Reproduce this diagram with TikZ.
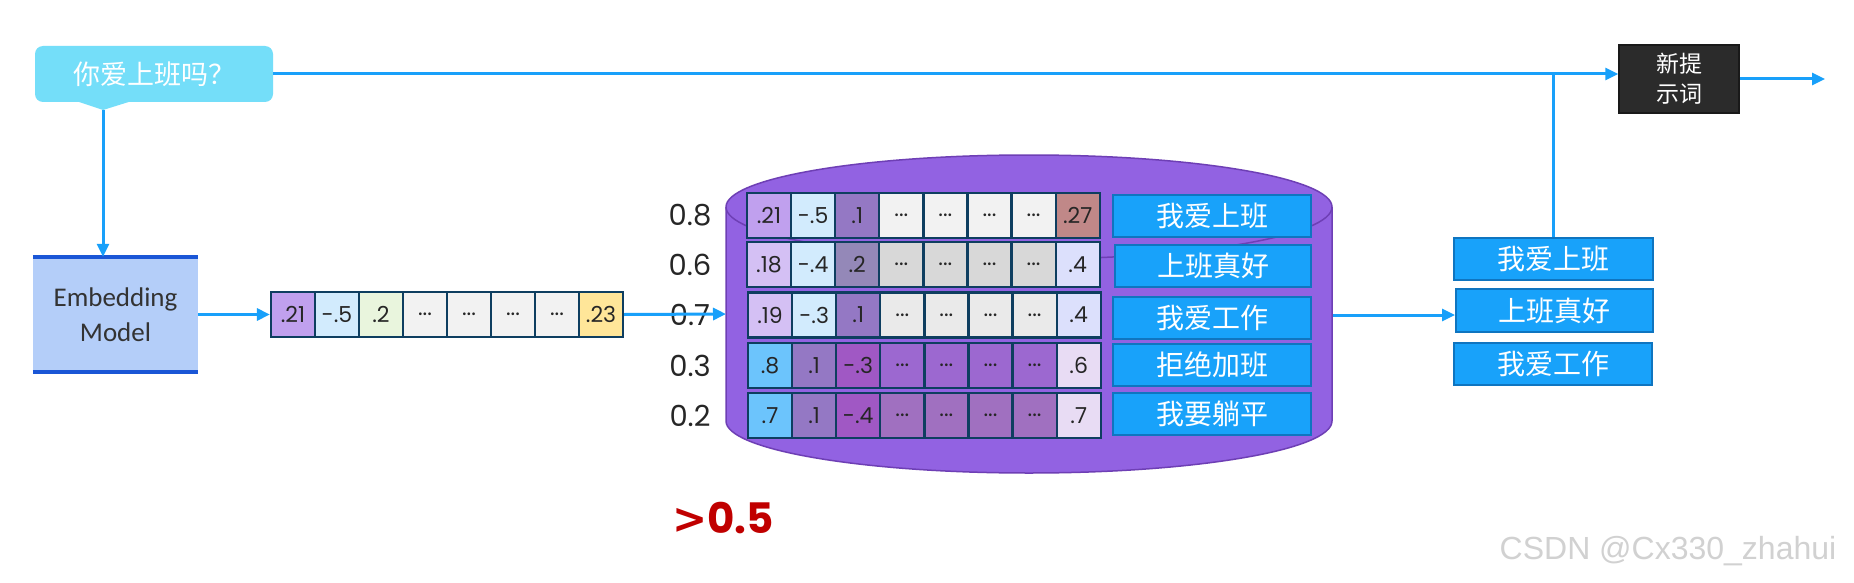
\documentclass[tikz,border=0pt]{standalone}
\usepackage{fontspec}
\setmainfont{Liberation Sans}
\newfontfamily\cjk{Noto Sans CJK SC}
\newfontfamily\hand{Poppins}
\newfontfamily\cali{Carlito}
\newfontfamily\dv{DejaVu Sans}
\usetikzlibrary{arrows.meta}
\newcommand\ddd{...}
\definecolor{arrowblue}{RGB}{24,160,250}
\definecolor{bubblec}{RGB}{116,222,249}
\definecolor{embf}{RGB}{180,206,249}
\definecolor{embl}{RGB}{26,86,214}
\definecolor{cylf}{RGB}{146,98,226}
\definecolor{cyle}{RGB}{110,63,181}
\definecolor{cellb}{RGB}{14,62,96}
\definecolor{tboxf}{RGB}{24,162,250}
\definecolor{tboxb}{RGB}{15,117,192}
\definecolor{npf}{RGB}{43,43,43}
\definecolor{redt}{RGB}{192,0,0}
\definecolor{cA}{RGB}{192,160,238}
\definecolor{cB}{RGB}{210,235,253}
\definecolor{cC}{RGB}{233,245,221}
\definecolor{cD}{RGB}{242,242,242}
\definecolor{cE}{RGB}{255,230,153}
\definecolor{rC}{RGB}{148,120,196}
\definecolor{rK}{RGB}{192,136,136}
\definecolor{rL}{RGB}{212,192,244}
\definecolor{rM}{RGB}{148,136,184}
\definecolor{dB}{RGB}{216,216,216}
\definecolor{rN}{RGB}{220,224,252}
\definecolor{dC}{RGB}{234,234,234}
\definecolor{rS}{RGB}{108,196,252}
\definecolor{rT}{RGB}{160,88,196}
\definecolor{dD}{RGB}{156,104,208}
\definecolor{rU}{RGB}{232,220,244}
\definecolor{dE}{RGB}{160,112,192}
\begin{document}
\begin{tikzpicture}[x=1pt,y=-1pt,
  arr/.style={draw=arrowblue, line width=3pt, -{Triangle[length=13pt,width=12pt]}},
  plainline/.style={draw=arrowblue, line width=3pt},
  cell/.style={draw=cellb, line width=2.2pt, minimum width=44pt, minimum height=45pt, inner sep=0pt, font=\hand\fontsize{22}{22}\selectfont, text=black!85},
  tbox/.style={draw=tboxb, line width=2pt, fill=tboxf, text=white, font=\cjk\fontsize{28}{28}\selectfont, minimum width=198pt, minimum height=42pt, inner sep=0pt},
  score/.style={font=\hand\fontsize{29}{29}\selectfont, text=black!85}
]
\useasboundingbox (0,0) rectangle (1854,583);
\fill[white] (0,0) rectangle (1854,583);

% speech bubble
\fill[bubblec] (73,100) -- (103,110) -- (135,100) -- cycle;
\node[fill=bubblec, rounded corners=8pt, minimum width=238pt, minimum height=56pt, inner sep=0pt,
      text=white, font=\cjk\fontsize{27}{27}\selectfont] (bubble) at (154,74) {你爱上班吗？};
\coordinate (btip) at (103,110);

% embedding model
\node[fill=embf, minimum width=165pt, minimum height=115pt, inner sep=0pt, align=center,
      text=black!80, font=\cali\fontsize{27}{35}\selectfont] (emb) at (115.5,314.5) {Embedding\\Model};
\draw[embl, line width=4pt] (emb.north west) -- (emb.north east);
\draw[embl, line width=4pt] (emb.south west) -- (emb.south east);

% new prompt box
\node[fill=npf, draw=black!90, line width=1.5pt, minimum width=120pt, minimum height=68pt, inner sep=0pt,
      align=center, text=white, font=\cjk\fontsize{23}{30}\selectfont] (newp) at (1679,79) {新提\\示词};
\coordinate (out) at (1825,79);

% query vector
\foreach \t/\c [count=\i] in {.21/cA,-.5/cB,.2/cC,\ddd/cD,\ddd/cD,\ddd/cD,\ddd/cD,.23/cE}
  \node[cell, fill=\c] (v\i) at ({271+22+44*(\i-1)},314.5) {\t};

% cylinder
\filldraw[fill=cylf, draw=cyle, line width=1.5pt] (726,207) arc[start angle=180,end angle=0,x radius=303pt,y radius=52pt]
  -- (1332,421) arc[start angle=0,end angle=-180,x radius=303pt,y radius=52pt] -- cycle;
\draw[cyle, line width=1.5pt] (726,207) arc[start angle=180,end angle=360,x radius=303pt,y radius=52pt];
\coordinate (cylL) at (726,314);
\coordinate (cylR) at (1333,315);

% database rows
\foreach \t/\c [count=\i] in {.21/cA,-.5/cB,.1/rC,\ddd/cD,\ddd/cD,\ddd/cD,\ddd/cD,.27/rK}
  \node[cell, fill=\c] (a\i) at ({747+22+44.1*(\i-1)},215.5) {\t};
\foreach \t/\c [count=\i] in {.18/rL,-.4/cB,.2/rM,\ddd/dB,\ddd/dB,\ddd/dB,\ddd/dB,.4/rN}
  \node[cell, fill=\c] (b\i) at ({747+22+44.1*(\i-1)},264.5) {\t};
\foreach \t/\c [count=\i] in {.19/rL,-.3/cB,.1/rC,\ddd/dC,\ddd/dC,\ddd/dC,\ddd/dC,.4/rN}
  \node[cell, fill=\c] (c\i) at ({748+22+44.1*(\i-1)},315) {\t};
\foreach \t/\c [count=\i] in {.8/rS,.1/rC,-.3/rT,\ddd/dD,\ddd/dD,\ddd/dD,\ddd/dD,.6/rU}
  \node[cell, fill=\c] (d\i) at ({748+22+44.1*(\i-1)},365.5) {\t};
\foreach \t/\c [count=\i] in {.7/rS,.1/rC,-.4/rT,\ddd/dE,\ddd/dE,\ddd/dE,\ddd/dE,.7/rU}
  \node[cell, fill=\c] (e\i) at ({748+22+44.1*(\i-1)},415.5) {\t};

% texts in db
\node[tbox] (ta) at (1212,216) {我爱上班};
\node[tbox, minimum width=196pt] (tb) at (1213,266) {上班真好};
\node[tbox] (tc) at (1212,317.5) {我爱工作};
\node[tbox] (td) at (1212,365) {拒绝加班};
\node[tbox] (te) at (1212,413.5) {我要躺平};

% scores
\node[score] (s1) at (690,215.5) {0.8};
\node[score] (s2) at (690,264.5) {0.6};
\node[score] (s3) at (690,315) {0.7};
\node[score] (s4) at (690,365.5) {0.3};
\node[score] (s5) at (690,415.5) {0.2};

% results
\node[tbox, minimum width=199pt] (r1) at (1553.5,259) {我爱上班};
\node[tbox, minimum width=197pt, minimum height=43pt] (r2) at (1554.5,310.5) {上班真好};
\node[tbox] (r3) at (1553,364) {我爱工作};

% threshold
\node[font=\hand\bfseries\fontsize{42}{42}\selectfont, text=redt, inner sep=0pt] (thr) at (723,518) {{\dv\bfseries >}0.5};

% watermark
\node[font=\fontsize{32}{32}\selectfont, text=black!18] (wm) at (1668,551) {CSDN @Cx330\_zhahui};

% connectors
\draw[plainline] (r1.north) -- (r1.north |- bubble.east);
\draw[arr] (bubble.east) -- (bubble.east -| newp.west);
\draw[arr] (newp.east) -- (out);
\draw[arr] (btip) -- (btip |- emb.north);
\draw[arr] (emb.east) -- (v1.west);
\draw[arr] (v8.east) -- (cylL);
\draw[arr] (cylR) -- (cylR -| r2.west);
\end{tikzpicture}
\end{document}
